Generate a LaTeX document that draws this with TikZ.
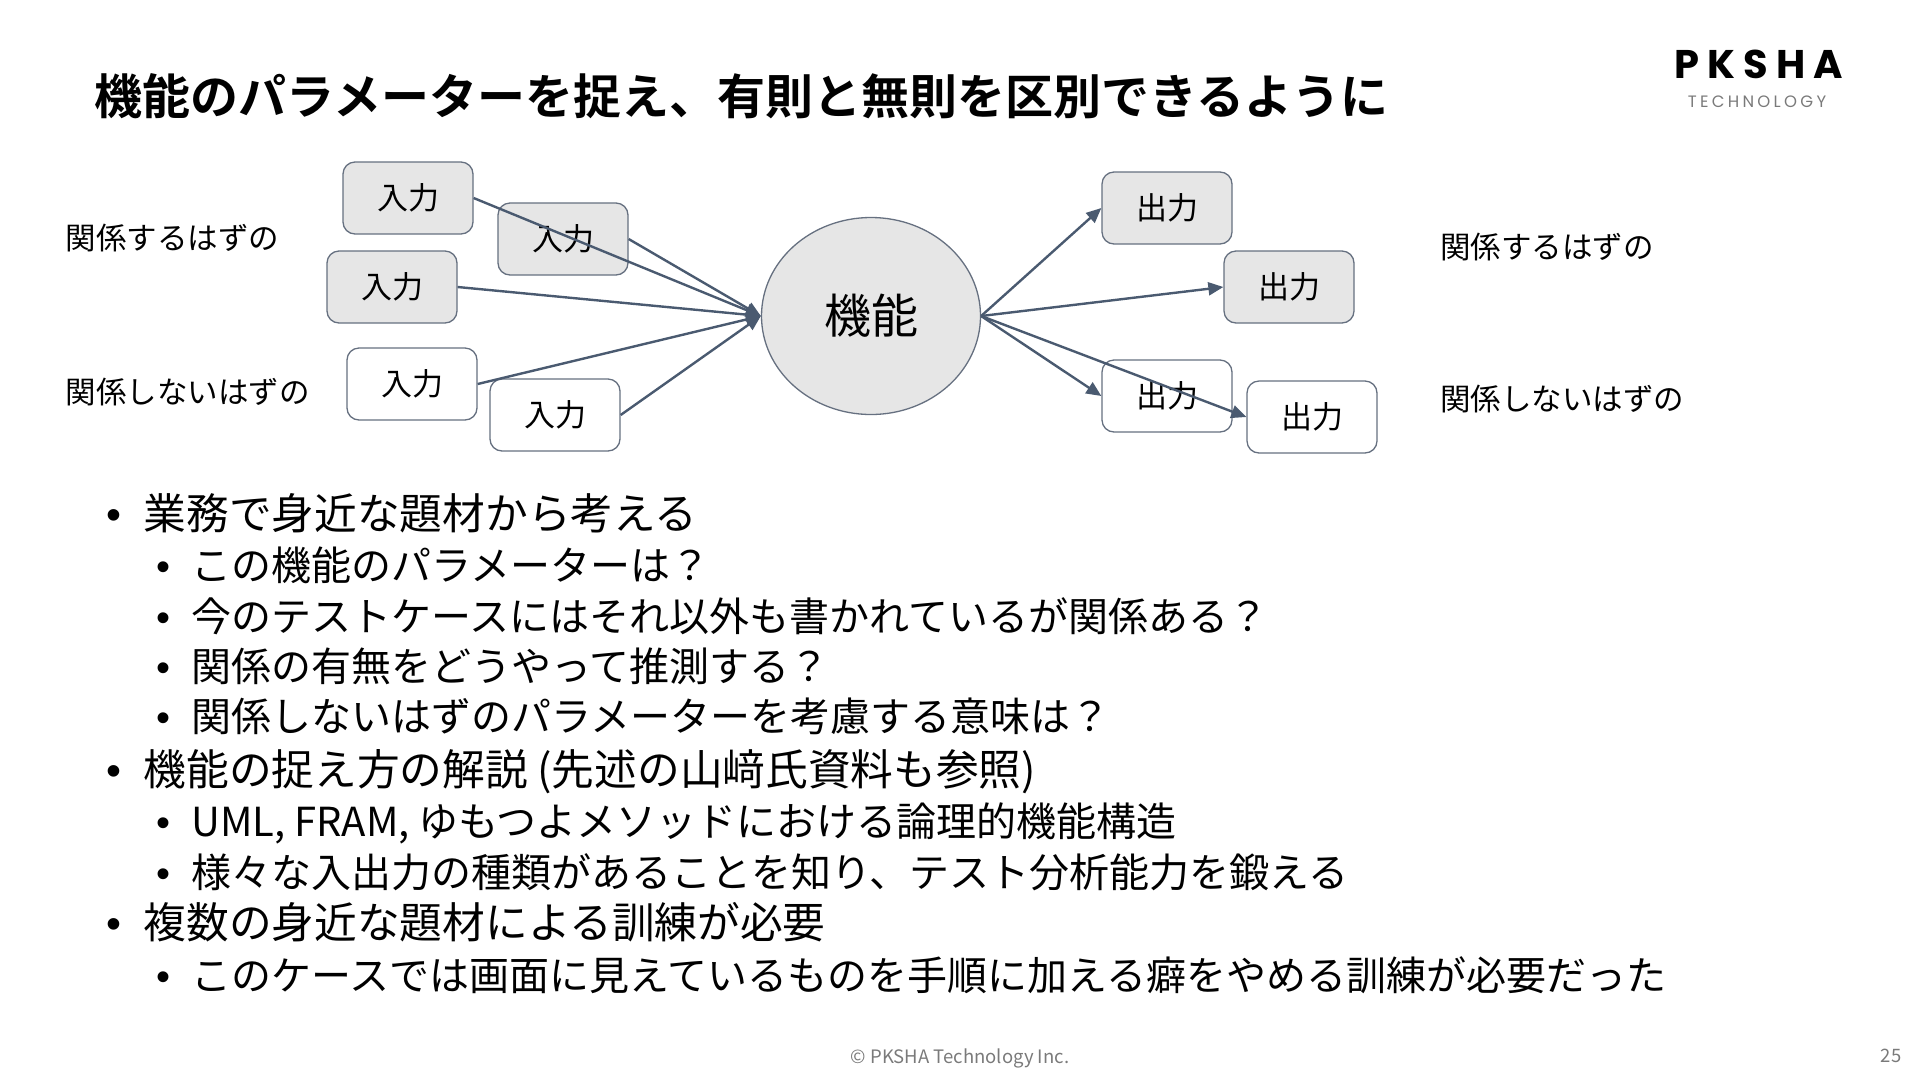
\documentclass[tikz,border=0pt]{standalone}
\usepackage{fontspec}
\setmainfont{Noto Sans CJK JP}[BoldFont={* Bold}]
\newfontfamily\logofont[LetterSpace=20]{Poppins}
\newfontfamily\dotfont{Liberation Sans}
\usetikzlibrary{arrows.meta,positioning,shapes.geometric}
\definecolor{edgeblue}{HTML}{4A5A70}
\definecolor{boxline}{HTML}{667080}
\definecolor{boxgray}{HTML}{E6E6E6}
\definecolor{footgray}{HTML}{7A7A7A}
\newcommand{\bltone}{\llap{{\dotfont•}\hspace{22pt}}}
\newcommand{\blttwo}{\llap{{\dotfont•}\hspace{21pt}}}
\tikzset{
 ioblank/.style={draw=boxline,line width=1.3pt,rounded corners=12pt,minimum width=130pt,minimum height=72pt,inner sep=0pt,font=\fontsize{31}{36}\selectfont},
 iogray/.style={ioblank,fill=boxgray},
 funcnode/.style={ellipse,draw=boxline,line width=1.3pt,fill=boxgray,minimum width=219pt,minimum height=197pt,inner sep=0pt,font=\fontsize{47}{54}\selectfont},
 sidelabel/.style={anchor=west,inner sep=0pt,font=\fontsize{30.5}{36}\selectfont},
 lvlone/.style={anchor=west,inner sep=0pt,font=\fontsize{42.7}{50}\selectfont},
 lvltwo/.style={anchor=west,inner sep=0pt,font=\fontsize{40}{48}\selectfont},
 footnote/.style={inner sep=0pt,text=footgray,font=\fontsize{18.5}{22}\selectfont}
}
\begin{document}
\begin{tikzpicture}[x=1pt,y=-1pt,on grid,line width=2.4pt,>={Triangle[length=15pt,width=13pt]}]
 \useasboundingbox (0,0) rectangle (1920,1080);
 % title and logo
 \node[anchor=west,inner sep=0pt,font=\fontsize{48}{56}\selectfont\bfseries] (title) at (93.5,96) {機能のパラメーターを捉え、有則と無則を区別できるように};
 \node[inner sep=0pt,font=\fontsize{40}{46}\logofont\bfseries] (logo_a) at (1759,64) {PKSHA};
 \node[inner sep=0pt,text=footgray,font=\fontsize{16.5}{20}\logofont] (logo_b) at (1757,102) {TECHNOLOGY};
 % the function and its inputs and outputs
 \node[funcnode] (func) at (871,316) {機能};
 \node[iogray] (in_a) [above left=118pt and 463pt of func] {入力};
 \node[iogray] (in_b) [above left=77pt and 308pt of func] {入力};
 \node[iogray] (in_c) [above left=29pt and 479pt of func] {入力};
 \node[ioblank] (in_d) [below left=68pt and 459pt of func] {入力};
 \node[ioblank] (in_e) [below left=99pt and 316pt of func] {入力};
 \node[iogray] (out_a) [above right=108pt and 296pt of func] {出力};
 \node[iogray] (out_b) [above right=29pt and 418pt of func] {出力};
 \node[ioblank] (out_c) [below right=80pt and 296pt of func] {出力};
 \node[ioblank] (out_d) [below right=101pt and 441pt of func] {出力};
 \path[->,color=edgeblue]
 (in_a.east) edge (func.west)
 (in_b.east) edge (func.west)
 (in_c.east) edge (func.west)
 (in_d.east) edge (func.west)
 (in_e.east) edge (func.west)
 (func.east) edge (out_a.west)
 (func.east) edge (out_b.west)
 (func.east) edge (out_c.west)
 (func.east) edge (out_d.west);
 \node[sidelabel] (rel_in) at (64.5,238) {関係するはずの};
 \node[sidelabel] (norel_in) at (64.5,392) {関係しないはずの};
 \node[sidelabel] (rel_out) at (1439,247) {関係するはずの};
 \node[sidelabel] (norel_out) at (1439,399) {関係しないはずの};
 % bullets
 \node[lvlone] (b_a) at (142.5,513.5) {\bltone 業務で身近な題材から考える};
 \node[lvltwo] (b_a1) at (190,565.5) {\blttwo この機能のパラメーターは？};
 \node[lvltwo] (b_a2) at (190,616.5) {\blttwo 今のテストケースにはそれ以外も書かれているが関係ある？};
 \node[lvltwo] (b_a3) at (190,666) {\blttwo 関係の有無をどうやって推測する？};
 \node[lvltwo] (b_a4) at (190,716.5) {\blttwo 関係しないはずのパラメーターを考慮する意味は？};
 \node[lvlone] (b_b) at (142.5,771.5) {\bltone 機能の捉え方の解説 (先述の山﨑氏資料も参照)};
 \node[lvltwo] (b_b1) at (190,823) {\blttwo UML, FRAM, ゆもつよメソッドにおける論理的機能構造};
 \node[lvltwo] (b_b2) at (190,872) {\blttwo 様々な入出力の種類があることを知り、テスト分析能力を鍛える};
 \node[lvlone] (b_c) at (142.5,922) {\bltone 複数の身近な題材による訓練が必要};
 \node[lvltwo] (b_c1) at (190,975) {\blttwo このケースでは画面に見えているものを手順に加える癖をやめる訓練が必要だった};
 % footer
 \node[footnote] (copy) at (960,1058) {© PKSHA Technology Inc.};
 \node[footnote] (page) at (1891,1056) {25};
\end{tikzpicture}
\end{document}
